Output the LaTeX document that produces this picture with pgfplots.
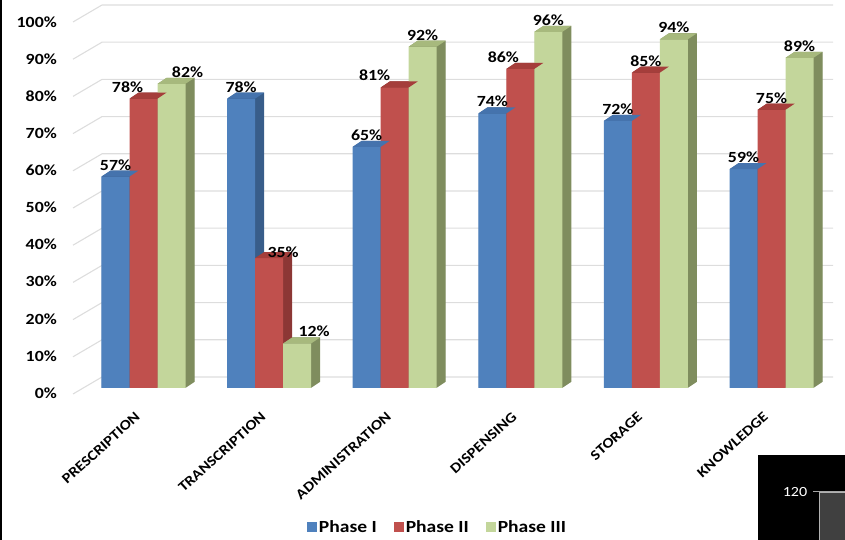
\documentclass[border=0pt]{standalone}
\usepackage{fontspec}
\setmainfont{Carlito}[FakeStretch=1.15]
\usepackage{pgfplots}
\usepackage{pgfplotstable}
\pgfplotsset{compat=1.18}

% front, top and side shades of each phase
\definecolor{p1f}{HTML}{4F81BD}
\definecolor{p1t}{HTML}{4573AD}
\definecolor{p1s}{HTML}{385D8A}
\definecolor{p2f}{HTML}{C0504D}
\definecolor{p2t}{HTML}{A53E3B}
\definecolor{p2s}{HTML}{8C3735}
\definecolor{p3f}{HTML}{C3D69B}
\definecolor{p3t}{HTML}{A7B97D}
\definecolor{p3s}{HTML}{7F8D5E}
\definecolor{gridc}{HTML}{DDDDDD}

% top face of a 28pt wide bar with 9pt x 6pt depth
\pgfdeclareplotmark{topface}{%
  \pgfpathmoveto{\pgfqpoint{-14pt}{0pt}}%
  \pgfpathlineto{\pgfqpoint{14pt}{0pt}}%
  \pgfpathlineto{\pgfqpoint{23pt}{6pt}}%
  \pgfpathlineto{\pgfqpoint{-5pt}{6pt}}%
  \pgfpathclose\pgfusepathqfill}

% x: category; p1..p3: phase values (%); l*: label x offset from the bar (pt); v2: label lift of Phase II
\pgfplotstableread{
x p1 p2 p3 l1 l2 l3 v2
0 57 78 82 0 -16 16 6.5
1 78 35 12 0 14  17 1
2 65 81 92 0 -20 0  6.5
3 74 86 96 0 -17 0  6.5
4 72 85 94 0 0   0  6.5
5 59 75 89 0 0   0  6.5
}\data

\newcommand\lblfont{\bfseries\fontsize{15.5}{18}\selectfont}
\newcommand\catfont{\bfseries\fontsize{14.3}{17}\selectfont}

\begin{document}
\begin{tikzpicture}[x=1pt,y=1pt]
\useasboundingbox (0,0) rectangle (845,540);
% back wall and side wall grid
\foreach \v in {0,10,...,100}{
  \pgfmathsetmacro\yb{163+3.72*\v}
  \draw[gridc,line width=1.1pt] (73,\yb-17) -- (102,\yb) -- (833,\yb);
}
\begin{axis}[
  at={(80.7pt,152pt)}, anchor=south west,
  scale only axis, width=753.6pt, height=371pt,
  xmin=-0.5, xmax=5.5, ymin=0, ymax=100,
  clip=false,
  axis line style={draw=none}, major tick length=0pt,
  /pgf/number format/assume math mode=true,
  xtick={0,...,5},
  xticklabels={PRESCRIPTION,TRANSCRIPTION,ADMINISTRATION,DISPENSING,STORAGE,KNOWLEDGE},
  xticklabel style={font=\catfont, inner sep=0pt, anchor=north east, xshift=-9pt, yshift=-23pt, rotate=42},
  ytick={0,10,...,100},
  yticklabels={0\%,10\%,20\%,30\%,40\%,50\%,60\%,70\%,80\%,90\%,100\%},
  yticklabel style={font=\lblfont, inner sep=0pt, anchor=east, xshift=-23.7pt, yshift=-5pt},
  legend style={at={(0.4735,-0.3747)}, anchor=center, draw=none, fill=none,
    legend columns=3, font=\bfseries\fontsize{17}{20}\selectfont,
    /tikz/every even column/.append style={column sep=15pt}},
  bar3d/.style={ybar, bar width=28pt, draw=none},
  lbl/.style={nodes near coords={\pgfmathprintnumber{\pgfplotspointmeta}\%},
    every node near coord/.append style={font=\lblfont, anchor=base, inner sep=0pt}},
]
% Phase I
\pgfplotsinvokeforeach{1,...,18}{
  \addplot[bar3d, bar shift=-28pt, fill=p1s, xshift=#1*0.5pt, yshift=#1*0.3333pt, forget plot] table[x=x,y=p1]{\data};
}
\addplot[only marks, mark=topface, mark options={fill=p1t, draw=none, xshift=-28pt}, forget plot] table[x=x,y=p1]{\data};
\addplot[bar3d, bar shift=-28pt, fill=p1f, lbl,
  visualization depends on={\thisrow{l1} \as \lx},
  every node near coord/.append style={xshift={\lx pt-28pt}, yshift=6.5pt},
  legend image code/.code={\fill[p1f] (0pt,-5pt) rectangle (10pt,5pt);}]
  table[x=x,y=p1]{\data};
\addlegendentry{Phase I}
% Phase II
\pgfplotsinvokeforeach{1,...,18}{
  \addplot[bar3d, bar shift=0pt, fill=p2s, xshift=#1*0.5pt, yshift=#1*0.3333pt, forget plot] table[x=x,y=p2]{\data};
}
\addplot[only marks, mark=topface, mark options={fill=p2t, draw=none}, forget plot] table[x=x,y=p2]{\data};
\addplot[bar3d, bar shift=0pt, fill=p2f, lbl,
  visualization depends on={\thisrow{l2} \as \lx},
  visualization depends on={\thisrow{v2} \as \ly},
  every node near coord/.append style={xshift=\lx pt, yshift=\ly pt},
  legend image code/.code={\fill[p2f] (0pt,-5pt) rectangle (10pt,5pt);}]
  table[x=x,y=p2]{\data};
\addlegendentry{Phase II}
% Phase III
\pgfplotsinvokeforeach{1,...,18}{
  \addplot[bar3d, bar shift=28pt, fill=p3s, xshift=#1*0.5pt, yshift=#1*0.3333pt, forget plot] table[x=x,y=p3]{\data};
}
\addplot[only marks, mark=topface, mark options={fill=p3t, draw=none, xshift=28pt}, forget plot] table[x=x,y=p3]{\data};
\addplot[bar3d, bar shift=28pt, fill=p3f, lbl,
  visualization depends on={\thisrow{l3} \as \lx},
  every node near coord/.append style={xshift={\lx pt+28pt}, yshift=6.5pt},
  legend image code/.code={\fill[p3f] (0pt,-5pt) rectangle (10pt,5pt);}]
  table[x=x,y=p3]{\data};
\addlegendentry{Phase III}
\end{axis}
% slide corner with page number
\fill[black] (758,0) rectangle (845,85);
\draw[gray!70,line width=0.8pt] (813,49) -- (845,49);
\filldraw[fill=black!75,draw=gray!60,line width=0.6pt] (819,-1) rectangle (846,48);
\node[white,font=\fontsize{14}{16}\selectfont] at (795,48) {120};
\draw[black,line width=1.5pt] (0.75,0) -- (0.75,540);
\end{tikzpicture}
\end{document}
